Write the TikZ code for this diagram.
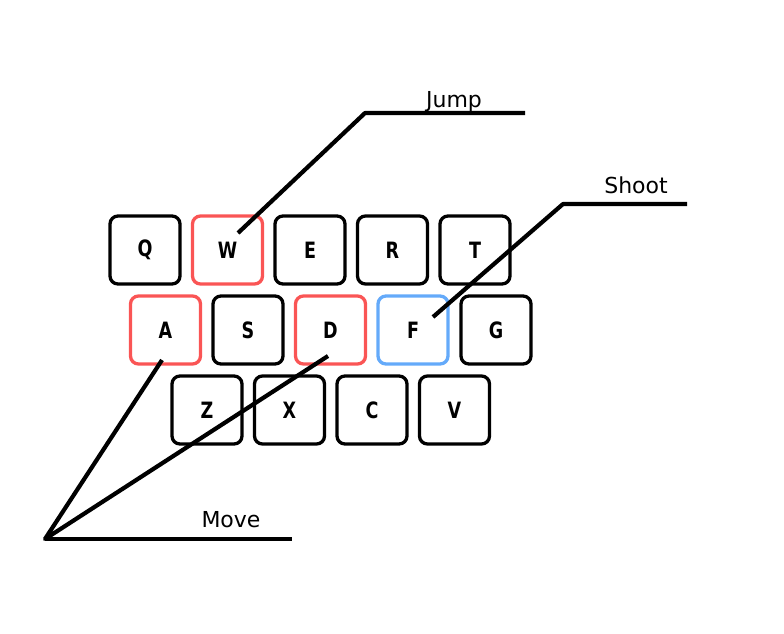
\documentclass[tikz,border=0pt]{standalone}
\usepackage{fontspec}
\setmainfont{DejaVu Sans}
\definecolor{keyred}{RGB}{250,85,85}
\definecolor{keyblue}{RGB}{100,170,250}
\newcommand\keyglyph[1]{\scalebox{0.78}[1]{#1}}
\tikzset{
  keycap/.style={draw=#1,line width=3.3pt,rounded corners=8pt,minimum width=70pt,
    minimum height=68pt,inner sep=0pt,font=\fontsize{22.5}{26}\selectfont\bfseries},
  leader/.style={line width=4.2pt,line join=round},
  action/.style={anchor=base,font=\fontsize{22}{26}\selectfont}
}
\begin{document}
\begin{tikzpicture}[x=1pt,y=-1pt]
\useasboundingbox (0,0) rectangle (784,633);
% keys
\foreach \k/\x/\c in {Q/145/black,W/227.5/keyred,E/310/black,R/392.5/black,T/475/black}
  \node[keycap=\c] (\k) at (\x,250) {\keyglyph{\k}};
\foreach \k/\x/\c in {A/165.5/keyred,S/248/black,D/330.5/keyred,F/413/keyblue,G/496/black}
  \node[keycap=\c] (\k) at (\x,330) {\keyglyph{\k}};
\foreach \k/\x in {Z/207,X/289.5,C/372,V/454.5}
  \node[keycap=black] (\k) at (\x,410) {\keyglyph{\k}};
% labels
\node[action] (jump) at (454,107) {Jump};
\node[action] (shoot) at (636,193) {Shoot};
\node[action] (move) at (231,527) {Move};
% leaders
\coordinate (wtip) at (238,233);
\coordinate (jumpbend) at (365,113);
\coordinate (jumpend) at (525,113);
\coordinate (ftip) at (433,317);
\coordinate (shootbend) at (563,204);
\coordinate (shootend) at (687,204);
\coordinate (atip) at (162,360);
\coordinate (dtip) at (328,356);
\coordinate (hub) at (45,539);
\coordinate (moveend) at (292,539);
\draw[leader] (wtip) -- (jumpbend) -- (jumpend);
\draw[leader] (ftip) -- (shootbend) -- (shootend);
\draw[leader] (atip) -- (hub) -- (dtip);
\draw[leader] (hub) -- (moveend);
\end{tikzpicture}
\end{document}
